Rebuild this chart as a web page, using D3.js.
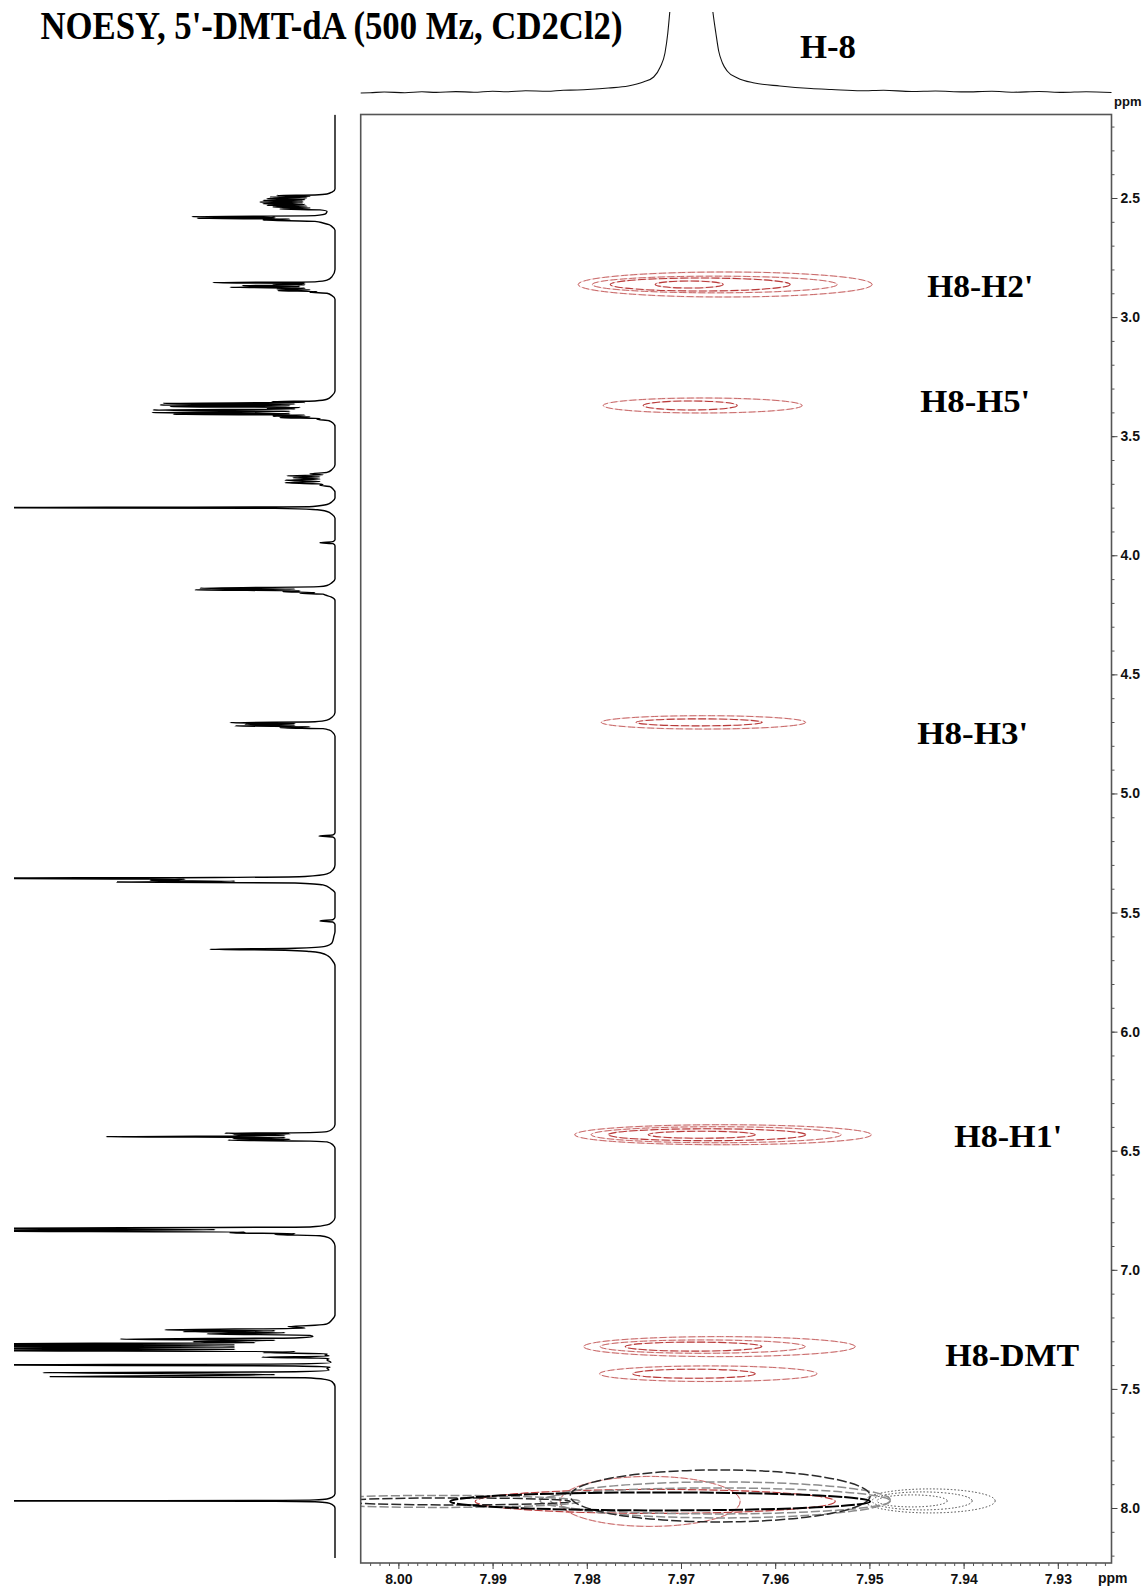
<!DOCTYPE html>
<html>
<head>
<meta charset="utf-8">
<script src="https://cdn.jsdelivr.net/npm/d3@7"></script>
<style>
  html, body { margin: 0; padding: 0; background: #fff; }
  svg { display: block; }
</style>
</head>
<body>
<svg id="chart" width="1147" height="1589"></svg>
<script>
// ---------- axes (ppm) ----------
const f2Domain = [8.0040, 7.9243];          // direct dimension, left -> right
const f1Domain = [2.1494, 8.2309];          // indirect dimension, top -> bottom
const f2TickValues = [8.00, 7.99, 7.98, 7.97, 7.96, 7.95, 7.94, 7.93];
const f2TickLabels = ["8.00", "7.99", "7.98", "7.97", "7.96", "7.95", "7.94", "7.93"];
const f1TickValues = [2.5, 3.0, 3.5, 4.0, 4.5, 5.0, 5.5, 6.0, 6.5, 7.0, 7.5, 8.0];
const f1TickLabels = ["2.5", "3.0", "3.5", "4.0", "4.5", "5.0", "5.5", "6.0", "6.5", "7.0", "7.5", "8.0"];

// ---------- 1D projection along F2 (H-8 region): [ppm, intensity] ----------
const topTrace = [
  [8.0040, 0], [8.0030, 0.2], [8.0015, 1.0], [7.9993, 0.3], [7.9975, 1.2], [7.9960, 0.6],
  [7.9939, 1.4], [7.9920, 0.8], [7.9900, 1.8], [7.9885, 1.2], [7.9865, 2.2], [7.9842, 1.8],
  [7.9825, 2.8], [7.9810, 3], [7.9777, 5], [7.9756, 7], [7.9740, 11], [7.9729, 16],
  [7.9722, 26], [7.9717, 40], [7.9714, 60], [7.9712, 80], [7.9689, 400], [7.9666, 80],
  [7.9663, 60], [7.9660, 42], [7.9656, 30], [7.9651, 22], [7.9640, 15], [7.9622, 10],
  [7.9595, 7], [7.9562, 4.5], [7.9540, 3.5], [7.9509, 2.2], [7.9485, 2.8], [7.9455, 1.5],
  [7.9430, 2.0], [7.9400, 1.1], [7.9370, 1.7], [7.9347, 0.8], [7.9320, 1.5], [7.9295, 0.6],
  [7.9270, 1.3], [7.9243, 0.5]
];

// ---------- 1D proton spectrum along F1: [ppm, intensity] ----------
const leftTrace = [
  [2.150, 0],
  // H2''
  [2.462, 0], [2.475, 3], [2.483, 8], [2.4875, 20], [2.4895, 58], [2.4925, 25], [2.4958, 65],
  [2.4990, 28], [2.5029, 68], [2.5062, 30], [2.5096, 72], [2.5130, 32], [2.5167, 75],
  [2.5203, 32], [2.5239, 72], [2.5272, 30], [2.5306, 68], [2.5340, 28], [2.5377, 62],
  [2.5418, 25], [2.5461, 55], [2.5500, 15], [2.556, 8], [2.565, 9], [2.574, 20],
  [2.5785, 143], [2.5818, 60], [2.5852, 138], [2.5885, 45], [2.5923, 72], [2.598, 20],
  [2.605, 12], [2.612, 6], [2.620, 3], [2.635, 0],
  // H2'
  [2.800, 0], [2.830, 3], [2.845, 8], [2.852, 20], [2.8555, 122], [2.8585, 30], [2.8610, 62],
  [2.8645, 30], [2.8681, 93], [2.8715, 35], [2.8749, 105], [2.8785, 30], [2.8820, 58],
  [2.8855, 25], [2.8891, 57], [2.8925, 18], [2.8958, 25], [2.900, 8], [2.910, 3], [2.925, 0],
  // H5', H5''
  [3.310, 0], [3.330, 3], [3.345, 8], [3.352, 20], [3.3551, 63], [3.3585, 30], [3.3618, 172],
  [3.3655, 40], [3.3690, 175], [3.3725, 45], [3.3761, 165], [3.3795, 35], [3.3828, 68],
  [3.3862, 40], [3.3900, 182], [3.3955, 45], [3.4013, 183], [3.4047, 45], [3.4080, 162],
  [3.4115, 30], [3.4151, 62], [3.4187, 25], [3.4223, 55], [3.4256, 15], [3.4290, 18],
  [3.435, 6], [3.445, 2], [3.460, 0],
  [3.620, 0], [3.640, 3], [3.652, 8], [3.6582, 25], [3.6624, 12], [3.6666, 48], [3.6708, 15],
  [3.6750, 42], [3.680, 15], [3.6855, 50], [3.6905, 15], [3.6960, 50], [3.7010, 12],
  [3.7065, 15], [3.712, 5], [3.722, 2], [3.735, 0],
  // OCH3
  [3.760, 0], [3.775, 3], [3.787, 8], [3.795, 22], [3.797, 60], [3.800, 400], [3.803, 60],
  [3.808, 22], [3.816, 8], [3.828, 3], [3.845, 0],
  [3.935, 0], [3.9425, 2], [3.947, 15], [3.9515, 2], [3.960, 0],
  // H4'
  [4.100, 0], [4.115, 3], [4.127, 8], [4.1318, 16], [4.1385, 135], [4.1420, 40], [4.1456, 140],
  [4.1492, 35], [4.1528, 52], [4.1562, 20], [4.1595, 35], [4.163, 12], [4.1666, 10],
  [4.175, 4], [4.190, 0],
  // H3'
  [4.660, 0], [4.680, 3], [4.692, 8], [4.699, 20], [4.7027, 105], [4.706, 40], [4.7094, 90],
  [4.713, 40], [4.7166, 100], [4.720, 25], [4.7237, 55], [4.728, 12], [4.7334, 6],
  [4.745, 2], [4.760, 0],
  [5.165, 0], [5.1735, 2], [5.1784, 16], [5.1833, 2], [5.192, 0],
  // CDHCl2
  [5.300, 0], [5.3211, 2], [5.3379, 8], [5.3484, 30], [5.3526, 120], [5.3560, 400],
  [5.3602, 150], [5.3652, 185], [5.3686, 100], [5.3715, 218], [5.3757, 40], [5.3841, 12],
  [5.4010, 4], [5.4177, 0],
  [5.520, 0], [5.530, 2], [5.5352, 15], [5.540, 2], [5.550, 0],
  // OH
  [5.580, 0], [5.5982, 1], [5.6276, 3], [5.6423, 10], [5.6499, 40], [5.6541, 125],
  [5.6583, 50], [5.6633, 25], [5.6696, 14], [5.6822, 7], [5.6990, 3], [5.7242, 0],
  // H1'
  [6.390, 0], [6.410, 3], [6.4198, 8], [6.424, 25], [6.4265, 110], [6.4295, 45], [6.4324, 102],
  [6.4365, 50], [6.4408, 229], [6.445, 50], [6.4492, 102], [6.4525, 45], [6.4559, 107],
  [6.4595, 25], [6.4631, 8], [6.4756, 2], [6.490, 0],
  // DMT aromatic
  [6.780, 0], [6.800, 3], [6.8115, 8], [6.820, 25], [6.8262, 400], [6.8315, 120], [6.8367, 400],
  [6.8410, 90], [6.8451, 105], [6.8483, 40], [6.8514, 60], [6.857, 15], [6.8661, 6],
  [6.880, 2], [6.900, 0],
  [7.190, 0], [7.210, 3], [7.2271, 8], [7.2330, 20], [7.2384, 47], [7.2450, 30], [7.2523, 170],
  [7.2558, 60], [7.2594, 152], [7.2640, 50], [7.2691, 128], [7.2750, 25], [7.2804, 22],
  [7.2860, 40], [7.2913, 215], [7.2960, 60], [7.3014, 142], [7.3060, 80], [7.3111, 400],
  [7.3153, 100], [7.3195, 400], [7.3240, 100], [7.3291, 400], [7.3340, 100], [7.3392, 400],
  [7.3434, 40], [7.3476, 72], [7.3525, 8], [7.3572, 10], [7.3620, 6], [7.3669, 73],
  [7.3720, 6], [7.3782, 8], [7.3890, 4], [7.3950, 40], [7.3992, 400], [7.4035, 40],
  [7.4080, 5], [7.4131, 8], [7.4220, 6], [7.4280, 40], [7.4316, 292], [7.4400, 60],
  [7.4484, 285], [7.4530, 30], [7.4600, 10], [7.4693, 3], [7.490, 0],
  // H-8
  [7.940, 0], [7.955, 3], [7.962, 8], [7.966, 20], [7.968, 60], [7.970, 400], [7.972, 60],
  [7.974, 20], [7.978, 8], [7.985, 3], [8.000, 0], [8.210, 0]
];

// ---------- NOE cross peaks: contour ellipses [f2 ppm, f1 ppm, f2 half-width, f1 half-width, level] ----------
const crossContours = [
  // H8-H2'
  [7.96531, 2.8631, 0.0156, 0.0525, 1], [7.96642, 2.8631, 0.0130, 0.0350, 1],
  [7.96796, 2.8631, 0.00955, 0.0273, 2], [7.96913, 2.8631, 0.00361, 0.0147, 2],
  // H8-H5'
  [7.96770, 3.3711, 0.01056, 0.0315, 1], [7.96902, 3.3711, 0.00499, 0.0189, 2],
  // H8-H3'
  [7.96762, 4.7015, 0.01085, 0.0280, 1], [7.96807, 4.7015, 0.00669, 0.0147, 2],
  // H8-H1'
  [7.96554, 6.4328, 0.01574, 0.0420, 1], [7.96627, 6.4328, 0.01327, 0.0336, 1],
  [7.96724, 6.4328, 0.01048, 0.0250, 2], [7.96780, 6.4328, 0.00568, 0.0147, 2],
  // H8-DMT
  [7.96592, 7.3224, 0.01442, 0.0420, 1], [7.96770, 7.3224, 0.01088, 0.0280, 1],
  [7.96867, 7.3224, 0.00725, 0.0190, 2],
  [7.96711, 7.4362, 0.01154, 0.0327, 1], [7.96862, 7.4362, 0.00650, 0.0190, 2]
];

// diagonal peak of H-8
const diagonalContours = [
  [7.94355, 7.9702, 0.00690, 0.0504, 0], [7.94440, 7.9702, 0.00531, 0.0378, 0],
  [7.94546, 7.9702, 0.00372, 0.0252, 0],
  [7.97327, 7.9723, 0.00955, 0.1050, 1],
  [7.97274, 7.9723, 0.01911, 0.0504, 2],
  [7.96584, 7.9660, 0.01805, 0.0756, 3],
  [7.96637, 7.9702, 0.01858, 0.0546, 3],
  [7.99556, 7.9723, 0.01486, 0.0252, 3],
  [7.96584, 7.9493, 0.01592, 0.1092, 4],
  [7.99397, 7.9723, 0.01221, 0.0147, 4],
  [7.97221, 7.9723, 0.02229, 0.0378, 5]
];

// ---------- peak assignments: text, f2 ppm, f1 ppm ----------
const assignLabels = ["H8-H2'", "H8-H5'", "H8-H3'", "H8-H1'", "H8-DMT"];
const assignF2 = [7.94386, 7.94460, 7.94492, 7.94100, 7.94195];
const assignF1 = [2.8694, 3.3522, 4.7460, 6.4379, 7.3615];
const assignWidth = [106, 110, 111, 108, 134];

// ---------- layout ----------
const svg = d3.select("#chart");
const frame = { left: 360.7, top: 114.5, right: 1111.5, bottom: 1563 };

const x = d3.scaleLinear().domain(f2Domain).range([frame.left, frame.right]);
const y = d3.scaleLinear().domain(f1Domain).range([frame.top, frame.bottom]);
const topY = d3.scaleLinear().domain([0, 81]).range([93, 12]);
const leftX = d3.scaleLinear().domain([0, 321]).range([335, 14]);

const defs = svg.append("defs");
defs.append("clipPath").attr("id", "plotClip").append("rect")
  .attr("x", frame.left).attr("y", frame.top)
  .attr("width", frame.right - frame.left).attr("height", frame.bottom - frame.top);
defs.append("clipPath").attr("id", "topClip").append("rect")
  .attr("x", frame.left - 1).attr("y", 12)
  .attr("width", frame.right - frame.left + 2).attr("height", 90);
defs.append("clipPath").attr("id", "leftClip").append("rect")
  .attr("x", 14).attr("y", frame.top).attr("width", 335).attr("height", frame.bottom - frame.top - 4);

// ---------- 1D traces ----------
svg.append("path")
  .datum(topTrace)
  .attr("clip-path", "url(#topClip)")
  .attr("fill", "none").attr("stroke", "#111").attr("stroke-width", 1.1)
  .attr("d", d3.line().x(d => x(d[0])).y(d => topY(d[1])).curve(d3.curveMonotoneX));

svg.append("path")
  .datum(leftTrace)
  .attr("clip-path", "url(#leftClip)")
  .attr("fill", "none").attr("stroke", "#000").attr("stroke-width", 1.4)
  .attr("stroke-linejoin", "round")
  .attr("d", d3.line().y(d => y(d[0])).x(d => leftX(d[1])).curve(d3.curveMonotoneY));

// ---------- contours ----------
const levelColor = d3.scaleOrdinal().domain([0, 1, 2, 3, 4, 5])
  .range(["#444", "#c86a6a", "#b83a3a", "#8c8c8c", "#2a2a2a", "#000"]);
const levelDash = d3.scaleOrdinal().domain([0, 1, 2, 3, 4, 5])
  .range(["1.5,2", "7,2.5", "8,2.5", "9,3", "10,3", "14,2"]);
const levelWidth = d3.scaleOrdinal().domain([0, 1, 2, 3, 4, 5])
  .range([1, 1, 1.1, 1.5, 1.5, 2]);

const plot = svg.append("g").attr("clip-path", "url(#plotClip)");

function ellipseAttrs(sel) {
  sel.attr("cx", d => x(d[0])).attr("cy", d => y(d[1]))
     .attr("rx", d => Math.abs(x(d[0] + d[2]) - x(d[0])))
     .attr("ry", d => Math.abs(y(d[1] + d[3]) - y(d[1])))
     .attr("fill", "none");
}

const allContours = crossContours.concat(diagonalContours);

// faint pink halo under the red levels
plot.append("g").selectAll("ellipse")
  .data(allContours.filter(d => d[4] === 1 || d[4] === 2))
  .join("ellipse").call(ellipseAttrs)
  .attr("stroke", "#f4d6d6").attr("stroke-width", 1.3);

plot.append("g").selectAll("ellipse")
  .data(allContours)
  .join("ellipse").call(ellipseAttrs)
  .attr("stroke", d => levelColor(d[4]))
  .attr("stroke-width", d => levelWidth(d[4]))
  .attr("stroke-dasharray", d => levelDash(d[4]));

// ---------- frame and axes ----------
svg.append("rect")
  .attr("x", frame.left).attr("y", frame.top)
  .attr("width", frame.right - frame.left).attr("height", frame.bottom - frame.top)
  .attr("fill", "none").attr("stroke", "#555").attr("stroke-width", 1.6);

const axisFont = g => g.selectAll("text")
  .attr("font-family", "Liberation Sans, Arial, sans-serif")
  .attr("font-size", 14).attr("font-weight", "bold").attr("fill", "#111");

const f1Minor = d3.range(22, 83).map(v => v / 10);
svg.append("g").attr("transform", `translate(${frame.right},0)`)
  .call(d3.axisRight(y).tickValues(f1Minor).tickSize(3).tickFormat(""))
  .call(g => g.select(".domain").remove())
  .call(g => g.selectAll("line").attr("stroke", "#555"));
svg.append("g").attr("transform", `translate(${frame.right},0)`)
  .call(d3.axisRight(y).tickValues(f1TickValues).tickSize(6).tickPadding(3)
    .tickFormat((d, i) => f1TickLabels[i]))
  .call(g => g.select(".domain").remove())
  .call(g => g.selectAll("line").attr("stroke", "#444"))
  .call(axisFont);

const f2Minor = d3.range(7925, 8004).map(v => v / 1000);
svg.append("g").attr("transform", `translate(0,${frame.bottom})`)
  .call(d3.axisBottom(x).tickValues(f2Minor).tickSize(3).tickFormat(""))
  .call(g => g.select(".domain").remove())
  .call(g => g.selectAll("line").attr("stroke", "#555"));
svg.append("g").attr("transform", `translate(0,${frame.bottom})`)
  .call(d3.axisBottom(x).tickValues(f2TickValues).tickSize(6).tickPadding(5)
    .tickFormat((d, i) => f2TickLabels[i]))
  .call(g => g.select(".domain").remove())
  .call(g => g.selectAll("line").attr("stroke", "#444"))
  .call(axisFont);

svg.append("text").attr("x", 1114).attr("y", 106)
  .attr("font-family", "Liberation Sans, Arial, sans-serif").attr("font-size", 13)
  .attr("font-weight", "bold").attr("fill", "#111").text("ppm");
svg.append("text").attr("x", 1098).attr("y", frame.bottom + 20)
  .attr("font-family", "Liberation Sans, Arial, sans-serif").attr("font-size", 14)
  .attr("font-weight", "bold").attr("fill", "#111").text("ppm");

// ---------- titles and assignments ----------
const serif = "Liberation Serif, Times New Roman, serif";
svg.append("text").attr("x", 40.5).attr("y", 39)
  .attr("font-family", serif).attr("font-weight", "bold").attr("font-size", 39)
  .attr("textLength", 582).attr("lengthAdjust", "spacingAndGlyphs")
  .text("NOESY, 5'-DMT-dA (500 Mz, CD2Cl2)");
svg.append("text").attr("x", 800).attr("y", 58)
  .attr("font-family", serif).attr("font-weight", "bold").attr("font-size", 34)
  .attr("textLength", 56).attr("lengthAdjust", "spacingAndGlyphs")
  .text("H-8");

svg.append("g").selectAll("text")
  .data(assignLabels)
  .join("text")
  .attr("x", (d, i) => x(assignF2[i]))
  .attr("y", (d, i) => y(assignF1[i]))
  .attr("dy", "0.33em")
  .attr("font-family", serif).attr("font-weight", "bold").attr("font-size", 32)
  .attr("textLength", (d, i) => assignWidth[i]).attr("lengthAdjust", "spacingAndGlyphs")
  .text(d => d);
</script>
</body>
</html>
